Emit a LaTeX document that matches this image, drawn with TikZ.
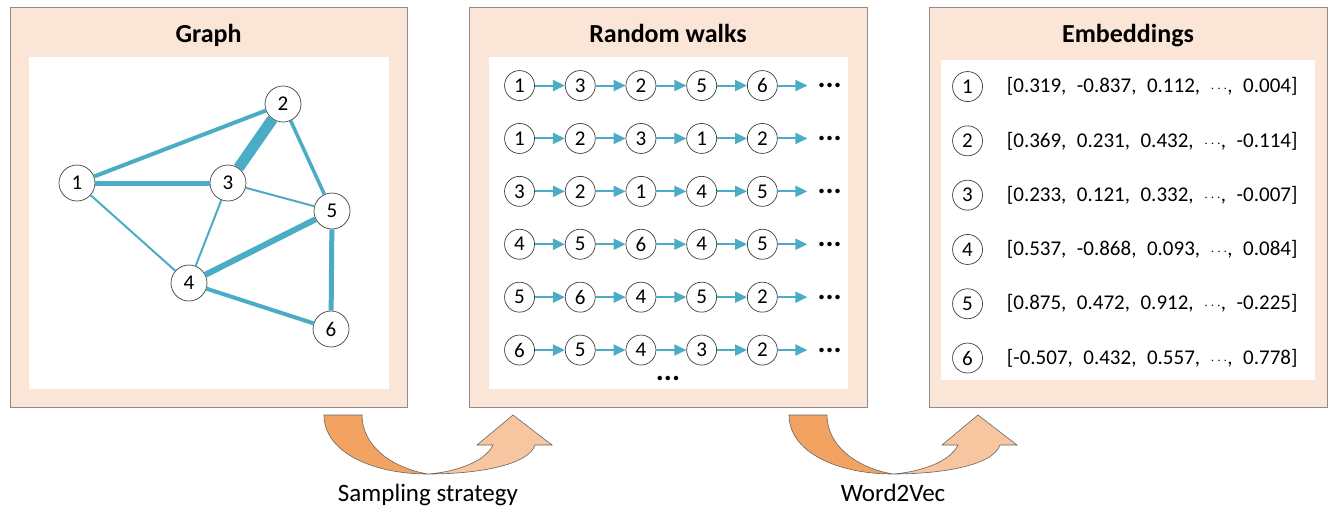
\documentclass[tikz,border=0pt]{standalone}
\usepackage{fontspec}
\setmainfont{Carlito}
\usepackage{tikz}
\usetikzlibrary{matrix,arrows.meta}
\definecolor{panelfill}{HTML}{FBE5D6}
\definecolor{linkblue}{HTML}{4BACC6}
\definecolor{bendfront}{HTML}{F2A362}
\definecolor{bendback}{HTML}{F7C59F}
\tikzset{
	panel/.style={draw=black!45,fill=panelfill,line width=0.8pt,inner sep=0pt},
	sheet/.style={fill=white,inner sep=0pt},
	heading/.style={anchor=base,font=\fontsize{26}{30}\selectfont\bfseries},
	vertex/.style={circle,draw=black!75,fill=white,line width=0.7pt,minimum size=36pt,inner sep=0pt,font=\fontsize{21}{24}\selectfont},
	walker/.style={circle,anchor=center,draw=black!75,fill=white,line width=0.7pt,minimum size=30pt,inner sep=0pt,font=\fontsize{21}{24}\selectfont},
	more/.style={rectangle,anchor=center,draw=none,fill=none,minimum size=0pt,inner xsep=10pt,inner ysep=2pt,font=\fontsize{30}{30}\selectfont\bfseries},
	vector/.style={anchor=west,inner sep=2pt,font=\fontsize{21}{24}\selectfont},
	link/.style={draw=linkblue},
	hop/.style={draw=linkblue,line width=2pt,-{Triangle[length=12pt,width=11pt]}},
	bendarrow/.style={draw=black!60,line width=0.6pt},
	caption/.style={anchor=base,font=\fontsize{25}{28}\selectfont}
}
\newcommand{\midots}{{\fontsize{15}{15}\selectfont$\cdots$}}
\begin{document}
\begin{tikzpicture}[x=1pt,y=-1pt]
\useasboundingbox (0,0) rectangle (1331,517);

\node[panel,minimum width=397pt,minimum height=400pt] (graphpanel) at (208.5,207) {};
\node[sheet,minimum width=360pt,minimum height=332pt] (graphsheet) at (209,223) {};
\node[panel,minimum width=398pt,minimum height=400pt] (walkpanel) at (668,207) {};
\node[sheet,minimum width=359pt,minimum height=332pt] (walksheet) at (668.5,223) {};
\node[panel,minimum width=398pt,minimum height=400pt] (embpanel) at (1128,207) {};
\node[sheet,minimum width=374pt,minimum height=320pt] (embsheet) at (1128,220) {};

\node[heading] (graphtitle) at (208.5,42) {Graph};
\node[heading] (walktitle) at (668,42) {Random walks};
\node[heading] (embtitle) at (1128,42) {Embeddings};

\node[vertex] (g1) at (77,183) {1};
\node[vertex] (g2) at (283,104) {2};
\node[vertex] (g3) at (228,183) {3};
\node[vertex] (g4) at (189,283) {4};
\node[vertex] (g5) at (332,211) {5};
\node[vertex] (g6) at (331,329) {6};
\draw[link,line width=4pt] (g1) -- (g2);
\draw[link,line width=5pt] (g1) -- (g3);
\draw[link,line width=11pt] (g2) -- (g3);
\draw[link,line width=3.5pt] (g2) -- (g5);
\draw[link,line width=2pt] (g3) -- (g5);
\draw[link,line width=2pt] (g1) -- (g4);
\draw[link,line width=2pt] (g3) -- (g4);
\draw[link,line width=6pt] (g4) -- (g5);
\draw[link,line width=5pt] (g5) -- (g6);
\draw[link,line width=4pt] (g4) -- (g6);

\matrix [matrix of nodes,anchor=north west,inner sep=0pt,column sep=30pt,row sep=22.2pt,nodes={walker},column 6/.style={nodes={more}}] (walk) at (504,70)
{
	1 & 3 & 2 & 5 & 6 & ... \\
	1 & 2 & 3 & 1 & 2 & ... \\
	3 & 2 & 1 & 4 & 5 & ... \\
	4 & 5 & 6 & 4 & 5 & ... \\
	5 & 6 & 4 & 5 & 2 & ... \\
	6 & 5 & 4 & 3 & 2 & ... \\
};
\node[more,inner xsep=2pt] (walkmore) at (668,378) {...};
\foreach \row in {1,...,6}
	\foreach \from/\to in {1/2,2/3,3/4,4/5,5/6}
		\draw[hop] (walk-\row-\from) -- (walk-\row-\to);

\matrix [matrix of nodes,anchor=north west,inner sep=0pt,column sep=22pt,row sep=23.6pt,column 1/.style={nodes={walker}},column 2/.style={nodes={vector}}] (emb) at (952,71)
{
	1 & {[}0.319,\enskip -0.837,\enskip 0.112,\enskip \midots,\enskip 0.004{]} \\
	2 & {[}0.369,\enskip 0.231,\enskip 0.432,\enskip \midots,\enskip -0.114{]} \\
	3 & {[}0.233,\enskip 0.121,\enskip 0.332,\enskip \midots,\enskip -0.007{]} \\
	4 & {[}0.537,\enskip -0.868,\enskip 0.093,\enskip \midots,\enskip 0.084{]} \\
	5 & {[}0.875,\enskip 0.472,\enskip 0.912,\enskip \midots,\enskip -0.225{]} \\
	6 & {[}-0.507,\enskip 0.432,\enskip 0.557,\enskip \midots,\enskip 0.778{]} \\
};

\foreach \dx/\tag/\txt in {0/sample/Sampling strategy,465/word/Word2Vec}
{
	\begin{scope}[xshift=\dx]
	\filldraw[bendarrow,fill=bendfront] (324,415) .. controls (324,452) and (372,474) .. (428,474) .. controls (392,468) and (362,446) .. (362,415) -- cycle;
	\filldraw[bendarrow,fill=bendback] (428,474) .. controls (475,474) and (528,466) .. (535,445) -- (552,445) -- (513,415) -- (477,445) -- (493,445) .. controls (485,462) and (455,472) .. (428,474) -- cycle;
	\node[caption] (\tag) at (428,501) {\txt};
	\end{scope}
}
\end{tikzpicture}
\end{document}
